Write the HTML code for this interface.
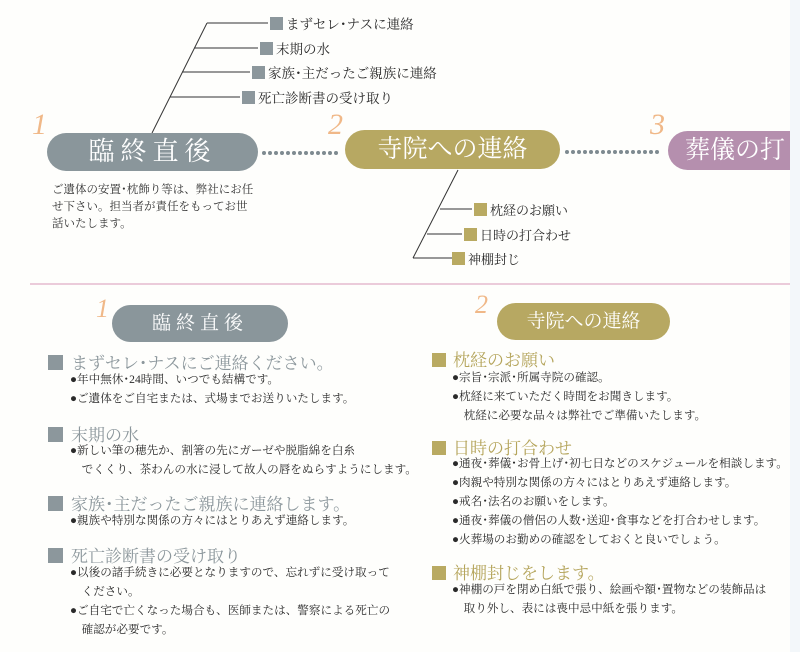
<!DOCTYPE html>
<html><head><meta charset="utf-8"><style>
body{margin:0;background:#fff;}
#c{position:relative;width:800px;height:652px;overflow:hidden;background:#fefefc;font-family:"Liberation Serif","Noto Serif CJK SC",serif;color:#2a2a2a;}
.a{position:absolute;white-space:nowrap;}
.pill{position:absolute;border-radius:20px;color:#fff;text-align:center;}
.sq{display:inline-block;width:13px;height:13px;vertical-align:-1px;margin-right:3px;}
.g{background:#8c979c}.y{background:#b9aa62}
.t{font-size:13px;}
.h{font-size:17px;}
.b{font-size:11.6px;line-height:19px;}
.num{position:absolute;color:#f0b888;font-style:italic;font-family:"Liberation Serif",serif;font-size:30px;}
</style></head><body><div id="c">
<div class="a" style="right:0;top:0;width:10px;height:652px;background:#f3f7fa"></div>
<svg class="a" style="left:0;top:0" width="800" height="290">
<g stroke="#333" stroke-width="1" fill="none">
<line x1="152" y1="133" x2="207" y2="23"/>
<line x1="207" y1="23" x2="268" y2="23"/>
<line x1="194" y1="48" x2="258" y2="48"/>
<line x1="182" y1="72" x2="250" y2="72"/>
<line x1="170" y1="97" x2="240" y2="97"/>
<line x1="458" y1="170" x2="413" y2="258"/>
<line x1="440" y1="209" x2="472" y2="209"/>
<line x1="427" y1="234" x2="462" y2="234"/>
<line x1="413" y1="258" x2="452" y2="258"/>
</g>
<g fill="#7e8a90">
<circle cx="264" cy="153" r="2"/><circle cx="270" cy="153" r="2"/><circle cx="276" cy="153" r="2"/><circle cx="282" cy="153" r="2"/><circle cx="288" cy="153" r="2"/><circle cx="294" cy="153" r="2"/><circle cx="300" cy="153" r="2"/><circle cx="306" cy="153" r="2"/><circle cx="312" cy="153" r="2"/><circle cx="318" cy="153" r="2"/><circle cx="324" cy="153" r="2"/><circle cx="330" cy="153" r="2"/><circle cx="336" cy="153" r="2"/>
<circle cx="567" cy="152" r="2"/><circle cx="573" cy="152" r="2"/><circle cx="579" cy="152" r="2"/><circle cx="585" cy="152" r="2"/><circle cx="591" cy="152" r="2"/><circle cx="597" cy="152" r="2"/><circle cx="603" cy="152" r="2"/><circle cx="609" cy="152" r="2"/><circle cx="615" cy="152" r="2"/><circle cx="621" cy="152" r="2"/><circle cx="627" cy="152" r="2"/><circle cx="633" cy="152" r="2"/><circle cx="639" cy="152" r="2"/><circle cx="645" cy="152" r="2"/><circle cx="651" cy="152" r="2"/><circle cx="657" cy="152" r="2"/>
</g>
<line x1="30" y1="284" x2="790" y2="284" stroke="#d898b8" stroke-width="1"/>
</svg>
<div class="a t" style="left:270px;top:13px;font-size:13.5px"><span class="sq g"></span>まずセレ･ナスに連絡</div>
<div class="a t" style="left:260px;top:38px;font-size:13.5px"><span class="sq g"></span>末期の水</div>
<div class="a t" style="left:252px;top:62px;font-size:13.5px"><span class="sq g"></span>家族･主だったご親族に連絡</div>
<div class="a t" style="left:242px;top:87px;font-size:13.5px"><span class="sq g"></span>死亡診断書の受け取り</div>
<div class="a t" style="left:474px;top:200px"><span class="sq y"></span>枕経のお願い</div>
<div class="a t" style="left:464px;top:225px"><span class="sq y"></span>日時の打合わせ</div>
<div class="a t" style="left:452px;top:249px"><span class="sq y"></span>神棚封じ</div>
<div class="num" style="left:32px;top:108px">1</div>
<div class="num" style="left:328px;top:108px">2</div>
<div class="num" style="left:650px;top:108px">3</div>
<div class="pill" style="left:47px;top:133px;width:211px;height:38px;background:#8a969b;font-size:26px;line-height:38px;letter-spacing:6px">臨終直後</div>
<div class="pill" style="left:345px;top:130px;width:215px;height:39px;background:#b7a862;font-size:25px;line-height:39px">寺院への連絡</div>
<div class="pill" style="left:668px;top:131px;width:122px;height:39px;border-radius:20px 0 0 20px;background:#b58fae;font-size:25px;line-height:39px;text-align:left;padding-left:17px;box-sizing:border-box">葬儀の打</div>
<div class="a" style="left:52px;top:182px;font-size:11.5px;line-height:17px;color:#333">ご遺体の安置･枕飾り等は、弊社にお任<br>せ下さい。担当者が責任をもってお世<br>話いたします。</div>

<div class="num" style="left:96px;top:294px;font-size:26px">1</div>
<div class="pill" style="left:112px;top:305px;width:176px;height:37px;background:#8a969b;font-size:19px;line-height:37px;letter-spacing:5px">臨終直後</div>
<div class="num" style="left:475px;top:290px;font-size:26px">2</div>
<div class="pill" style="left:497px;top:303px;width:173px;height:37px;background:#b7a862;font-size:19px;line-height:37px">寺院への連絡</div>

<div class="a h" style="left:48px;top:349px;color:#8c979c"><span class="sq g" style="width:15px;height:15px;margin-right:8px"></span>まずセレ･ナスにご連絡ください。</div>
<div class="a b" style="left:70px;top:370px">●年中無休･24時間、いつでも結構です。<br>●ご遺体をご自宅または、式場までお送りいたします。</div>
<div class="a h" style="left:48px;top:421px;color:#8c979c"><span class="sq g" style="width:15px;height:15px;margin-right:8px"></span>末期の水</div>
<div class="a b" style="left:70px;top:441px">●新しい筆の穂先か、割箸の先にガーゼや脱脂綿を白糸<br>　でくくり、茶わんの水に浸して故人の唇をぬらすようにします。</div>
<div class="a h" style="left:48px;top:490px;color:#8c979c"><span class="sq g" style="width:15px;height:15px;margin-right:8px"></span>家族･主だったご親族に連絡します。</div>
<div class="a b" style="left:70px;top:511px">●親族や特別な関係の方々にはとりあえず連絡します。</div>
<div class="a h" style="left:48px;top:542px;color:#8c979c"><span class="sq g" style="width:15px;height:15px;margin-right:8px"></span>死亡診断書の受け取り</div>
<div class="a b" style="left:70px;top:563px">●以後の諸手続きに必要となりますので、忘れずに受け取って<br>　ください。<br>●ご自宅で亡くなった場合も、医師または、警察による死亡の<br>　確認が必要です。</div>

<div class="a h" style="left:432px;top:346px;color:#b5a55c"><span class="sq y" style="width:14px;height:14px;margin-right:7px"></span>枕経のお願い</div>
<div class="a b" style="left:452px;top:368px">●宗旨･宗派･所属寺院の確認。<br>●枕経に来ていただく時間をお聞きします。<br>　枕経に必要な品々は弊社でご準備いたします。</div>
<div class="a h" style="left:432px;top:434px;color:#b5a55c"><span class="sq y" style="width:14px;height:14px;margin-right:7px"></span>日時の打合わせ</div>
<div class="a b" style="left:452px;top:454px">●通夜･葬儀･お骨上げ･初七日などのスケジュールを相談します。<br>●肉親や特別な関係の方々にはとりあえず連絡します。<br>●戒名･法名のお願いをします。<br>●通夜･葬儀の僧侶の人数･送迎･食事などを打合わせします。<br>●火葬場のお勤めの確認をしておくと良いでしょう。</div>
<div class="a h" style="left:432px;top:559px;color:#b5a55c"><span class="sq y" style="width:14px;height:14px;margin-right:7px"></span>神棚封じをします。</div>
<div class="a b" style="left:452px;top:580px">●神棚の戸を閉め白紙で張り、絵画や額･置物などの装飾品は<br>　取り外し、表には喪中忌中紙を張ります。</div>
</div></body></html>
